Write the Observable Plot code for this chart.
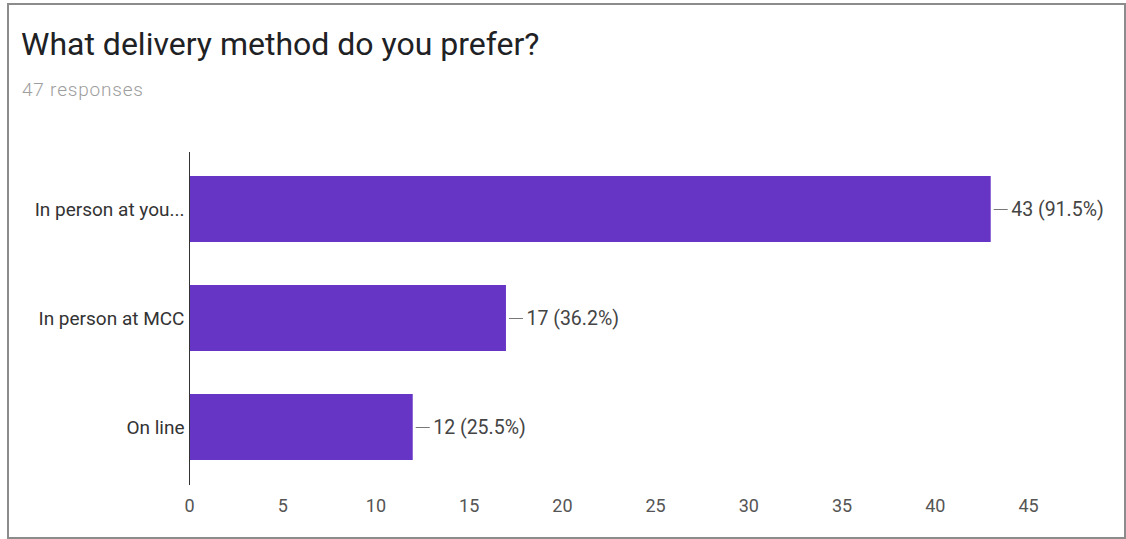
<!DOCTYPE html>
<html>
<head>
<meta charset="utf-8">
<script src="https://cdn.jsdelivr.net/npm/d3@7"></script>
<script src="https://cdn.jsdelivr.net/npm/@observablehq/plot@0.6"></script>
<style>
  html, body { margin: 0; padding: 0; background: #fff; width: 1126px; height: 539px; overflow: hidden; }
  #frame { position: absolute; left: 7px; top: 3px; width: 1115px; height: 532px; border: 2px solid #8c8c8c; }
  #title { position: absolute; left: 21px; top: 25px; font-family: Roboto, sans-serif; font-size: 32px; color: #202124; white-space: nowrap; }
  #subtitle { position: absolute; left: 22px; top: 78px; font-family: Roboto, sans-serif; font-size: 19px; letter-spacing: 0.8px; font-weight: 300; color: #9e9e9e; white-space: nowrap; }
  #chart { position: absolute; left: 0; top: 110px; }
</style>
</head>
<body>
<div id="frame"></div>
<div id="title">What delivery method do you prefer?</div>
<div id="subtitle">47 responses</div>
<div id="chart"></div>
<script>
const categories = ["In person at you...", "In person at MCC", "On line"];
const counts = [43, 17, 12];
const percents = ["91.5%", "36.2%", "25.5%"];
const xTicks = [0, 5, 10, 15, 20, 25, 30, 35, 40, 45];

const data = categories.map((c, i) => ({category: c, count: counts[i], pct: percents[i]}));
const purple = "#6735c6";

const chart = Plot.plot({
  width: 1126,
  height: 425,
  marginLeft: 189,
  marginRight: 98,
  marginTop: 42,
  marginBottom: 50,
  style: {fontFamily: "Roboto, sans-serif", fontSize: "18px", background: "transparent"},
  x: {domain: [0, 45], ticks: xTicks, label: null, tickSize: 0, tickPadding: 14},
  y: {domain: categories, paddingInner: 0.39, paddingOuter: 0.209, label: null, tickSize: 0, tickPadding: 4},
  marks: [
    Plot.barX(data, {x: "count", y: "category", fill: purple}),
    Plot.ruleX([0], {stroke: "#333", strokeWidth: 1}),
    Plot.ruleY(data, {y: "category", x1: "count", x2: "count", insetLeft: 3, insetRight: -17, stroke: "#777", strokeWidth: 1}),
    Plot.text(data, {y: "category", x: "count", text: d => `${d.count} (${d.pct})`, dx: 20, textAnchor: "start", fill: "#444", fontSize: 19.5}),
    Plot.axisX({ticks: xTicks, tickSize: 0, tickPadding: 14, fill: "#555", fontSize: 18, label: null}),
    Plot.axisY({tickSize: 0, tickPadding: 5, fill: "#333", fontSize: 19, label: null})
  ]
});
document.getElementById("chart").appendChild(chart);
</script>
</body>
</html>
